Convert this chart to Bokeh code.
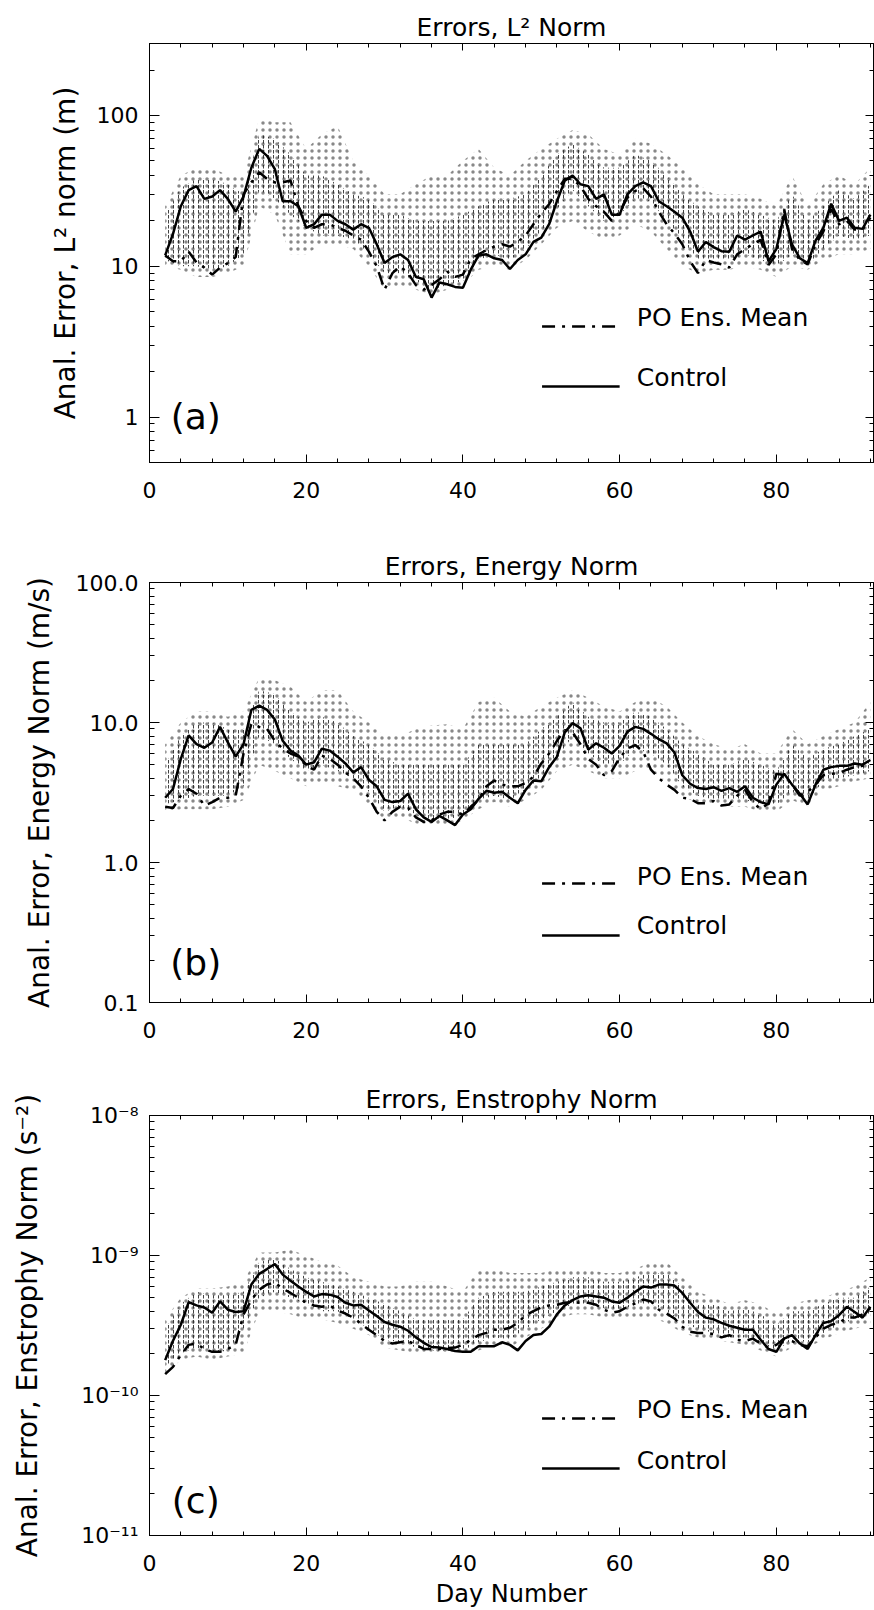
import math
from bokeh.plotting import figure
from bokeh.models import (Range1d, LogAxis, LinearAxis, SingleIntervalTicker, LogTicker,
                          CustomJSTickFormatter, Label, Title)
from bokeh.layouts import column
from bokeh.embed import file_html
from bokeh.resources import INLINE

FONT = "DejaVu Sans"

# ---------------- data ----------------
DAYS = list(range(2, 93))          # daily values, day 2 .. 92
BAND_DAYS = list(range(2, 93, 2))  # ensemble spread, every 2 days

# (a) L2 norm (m)
L2_CONTROL = [11.8, 16.4, 25, 32, 34, 28, 29, 32, 28, 23,
              29, 45, 60, 54, 44, 27, 27, 25, 18, 19,
              22, 22, 20, 19, 17.5, 19, 18, 14, 10.5, 11.5,
              12, 11, 8.5, 8.2, 6.2, 7.8, 7.6, 7.3, 7.2, 9.5,
              11.8, 12, 11.3, 11, 9.6, 11, 12, 14.5, 15.5, 19,
              27, 37, 40, 35, 34, 28, 30, 22, 22, 30,
              34, 36, 34, 27, 25, 23, 21, 17, 12.5, 14.5,
              13.4, 12.6, 12.5, 16, 15, 16, 17, 10.8, 13, 22,
              14, 11.3, 10.5, 14.8, 18, 26, 20, 21, 18, 17.7, 22]
L2_MEAN = [11.8, 10.8, 10.8, 12.5, 10.6, 9.8, 8.8, 9.8, 10.5, 11.5,
           30, 36, 42, 38, 36, 36, 37, 25, 20, 18,
           19, 19, 18, 17.2, 16, 15, 12.5, 10, 7, 9,
           10, 9, 7.5, 7, 7.5, 8.2, 9.2, 8.5, 8.8, 11.2,
           12, 12.8, 13.5, 14, 13.5, 14.5, 16, 19, 22.5, 25.8,
           31.6, 38, 38, 34, 28, 25, 23, 20, 23, 28.6,
           31.6, 33, 29, 23, 19, 16.5, 14, 10.8, 9, 11,
           10.6, 10.3, 9.8, 12, 13, 14, 15, 10.2, 12, 24,
           13, 11, 10.3, 14, 17, 24, 19, 20, 17.5, 17.5, 21]
L2_ENS_OUTER_HI = [25, 40, 45, 45, 40, 40, 95, 90, 90, 60, 75, 85, 50, 40, 30, 30, 35, 40, 40, 50, 60, 45, 40,
                   50, 60, 70, 80, 75, 60, 55, 70, 65, 55, 45, 35, 30, 30, 30, 28, 25, 40, 25, 35, 40, 35, 45]
L2_ENS_CORE_HI = [22, 33, 38, 38, 35, 30, 75, 70, 55, 40, 40, 35, 30, 28, 22, 22, 20, 20, 20, 22, 25, 28, 28,
                  30, 40, 55, 65, 55, 45, 45, 55, 50, 40, 30, 25, 22, 22, 24, 22, 20, 30, 20, 25, 32, 28, 35]
L2_ENS_CORE_LO = [11, 10, 10, 9.5, 10, 12, 32, 28, 22, 18, 16, 16, 15, 12, 9, 9, 8, 7, 7.5, 8, 11, 12, 11,
                  13, 17, 24, 32, 25, 20, 22, 28, 27, 20, 15, 11, 11, 11, 12, 11, 10, 12, 10, 13, 16, 15, 16]
L2_ENS_OUTER_LO = [10, 9.5, 8.5, 8.5, 9, 10, 25, 22, 12, 12, 14, 14, 13, 10, 7, 7.5, 7, 6.5, 7, 7.5, 9.5, 10,
                   9.5, 11, 14, 18, 20, 17, 15, 16, 19, 17, 13, 10, 9, 9.5, 9.5, 10, 9.5, 8.5, 10, 9.5, 11,
                   12, 12, 13]

# (b) energy norm (m/s)
EN_CONTROL = [2.9, 3.35, 5.5, 8.1, 7.0, 6.6, 7.2, 9.3, 7.2, 5.7,
              7, 12.3, 13.2, 12.3, 10.5, 7.4, 6.3, 5.8, 5.0, 5.2,
              6.5, 6.3, 5.7, 5.1, 4.4, 4.8, 3.9, 3.5, 2.8, 2.7,
              2.75, 3.1, 2.4, 2.1, 1.95, 2.15, 2.0, 1.85, 2.2, 2.4,
              2.85, 3.25, 3.15, 3.2, 2.9, 2.65, 3.3, 3.85, 3.8, 4.8,
              5.7, 8.5, 9.9, 9.1, 6.4, 7.1, 6.6, 6.0, 6.8, 8.6,
              9.3, 9.0, 8.3, 7.6, 7.1, 6.1, 4.2, 3.65, 3.4, 3.35,
              3.45, 3.25, 3.4, 3.2, 3.5, 2.9, 2.7, 2.6, 3.6, 4.3,
              3.6, 3.1, 2.6, 3.6, 4.6, 4.8, 4.9, 4.9, 5.1, 5.0, 5.4]
EN_MEAN = [2.5, 2.45, 3.0, 3.35, 3.1, 2.55, 2.7, 2.9, 2.9, 3.0,
           6.0, 9.8, 9.3, 9.0, 7.4, 6.5, 6.0, 5.7, 4.9, 4.6,
           5.8, 5.5, 5.0, 4.4, 4.0, 3.5, 2.9, 2.3, 2.0, 2.3,
           2.5, 2.45, 2.1, 1.95, 2.0, 2.2, 2.3, 2.3, 2.2, 2.5,
           2.8, 3.5, 3.85, 3.6, 3.5, 3.5, 3.7, 4.1, 5.1, 6.0,
           7.4, 8.8, 8.5, 7.0, 5.5, 5.0, 4.2, 4.5, 5.6, 6.5,
           6.9, 6.2, 4.6, 4.0, 3.6, 3.3, 2.9, 2.85, 2.65, 2.65,
           2.75, 2.55, 2.6, 3.0, 3.3, 2.7, 2.4, 2.65, 4.3, 4.2,
           3.6, 3.0, 3.2, 3.6, 4.2, 4.3, 4.35, 4.6, 4.8, 4.9, 5.0]
EN_ENS_OUTER_HI = [7, 10, 12, 12, 11, 12, 21, 20, 18, 14, 17, 17, 12, 10, 8, 8, 9, 9.5, 9.7, 9, 14, 15, 12,
                   11, 13, 15, 17, 15, 13, 12, 14, 15, 13, 10, 8, 7, 6.5, 7, 6, 6, 9, 7, 8, 9, 10, 14]
EN_ENS_CORE_HI = [5, 8, 10, 10, 9, 9, 17, 16, 12, 10, 11, 10, 8, 7, 5.5, 5, 5, 5, 5, 5, 7, 7, 7,
                  7, 9, 11, 14, 11, 10, 10, 12, 11, 9, 7, 6, 5, 5, 5.5, 5, 4.5, 7, 5.5, 6.5, 7, 8, 9]
EN_ENS_CORE_LO = [2.6, 2.8, 3, 3, 3, 3.5, 8, 7, 5.5, 4.5, 5, 4.5, 4, 3.2, 2.3, 2.5, 2.2, 2, 2, 2.2, 2.8, 3,
                  2.8, 3.3, 4, 5.5, 8, 6, 5, 5, 6.5, 6, 5, 3.5, 3, 2.8, 2.8, 2.8, 2.6, 2.6, 3.2, 2.8, 3.8,
                  4, 4.2, 4.5]
EN_ENS_OUTER_LO = [2.3, 2.4, 2.4, 2.4, 2.5, 2.8, 5, 4.5, 4, 3.5, 3.8, 3.5, 3.3, 2.6, 2, 2.1, 1.9, 1.8, 1.8, 2,
                   2.4, 2.7, 2.5, 2.8, 3.3, 4.5, 5, 4.5, 4, 4, 4.5, 4.5, 3.8, 2.9, 2.7, 2.6, 2.5, 2.5, 2.3,
                   2.3, 2.8, 2.5, 3.3, 3.5, 3.8, 4]

# (c) enstrophy norm, in units of 1e-10 s^-2
ENS_CONTROL_E10 = [1.79, 2.46, 3.2, 4.65, 4.4, 4.25, 3.9, 4.7, 4.1, 3.95,
                   4.0, 6.2, 7.4, 8.0, 8.7, 7.3, 6.6, 6.0, 5.5, 5.1,
                   5.3, 5.25, 5.05, 4.6, 4.4, 4.45, 4.05, 3.7, 3.35, 3.2,
                   3.1, 2.9, 2.6, 2.38, 2.22, 2.2, 2.15, 2.08, 2.05, 2.05,
                   2.25, 2.25, 2.25, 2.4, 2.3, 2.1, 2.45, 2.7, 2.75, 3.1,
                   3.8, 4.4, 4.8, 5.1, 5.2, 5.1, 5.0, 4.7, 4.6, 5.0,
                   5.5, 6.0, 5.9, 6.2, 6.2, 6.1, 5.4, 4.6, 3.95, 3.6,
                   3.5, 3.3, 3.15, 3.05, 2.95, 2.95, 2.5, 2.15, 2.05, 2.55,
                   2.7, 2.35, 2.15, 2.7, 3.3, 3.4, 3.75, 4.3, 3.95, 3.6, 4.3]
ENS_MEAN_E10 = [1.42, 1.6, 1.95, 2.3, 2.35, 2.15, 2.05, 2.05, 2.15, 2.3,
                3.8, 4.8, 5.7, 6.2, 6.4, 5.8, 5.4, 5.0, 4.6, 4.4,
                4.3, 4.4, 4.05, 3.85, 3.6, 3.25, 2.95, 2.7, 2.45, 2.35,
                2.4, 2.45, 2.3, 2.15, 2.15, 2.15, 2.18, 2.2, 2.3, 2.5,
                2.7, 2.8, 2.95, 2.95, 3.05, 3.3, 3.75, 4.0, 4.25, 4.4,
                4.45, 4.6, 4.65, 4.6, 4.6, 4.45, 4.1, 3.9, 4.0, 4.3,
                4.55, 4.85, 4.7, 4.1, 3.85, 3.55, 3.1, 2.85, 2.8, 2.8,
                2.75, 2.6, 2.7, 2.5, 2.45, 2.55, 2.35, 2.2, 2.3, 2.55,
                2.45, 2.3, 2.25, 2.6, 3.0, 3.2, 3.3, 3.6, 3.6, 3.8, 4.2]
ENS_OUTER_HI_E10 = [3.5, 5, 5.8, 5.8, 6, 6.5, 10.5, 10.5, 11, 10, 9, 8.5, 7, 6.5, 6, 6, 6.5, 6.5, 6, 5.5, 8,
                    8, 7.5, 7.5, 7.5, 8, 8, 8, 7.5, 7.5, 8, 9, 9, 7, 5.5, 5, 4.5, 4.8, 4.5, 3.8, 4.5, 4.8,
                    5, 5.5, 6, 7]
ENS_CORE_HI_E10 = [3, 4.5, 5.5, 5.2, 5.2, 5.5, 9, 9.5, 8, 7, 6.5, 6, 5.5, 5, 4.5, 4, 3.5, 3.5, 3.5, 3.5, 5,
                   5.5, 5.5, 5.5, 6, 6.5, 7, 7, 6.5, 6.5, 7, 7.5, 7.5, 6, 4.5, 4.5, 4, 4.2, 3.8, 3.2, 4, 4,
                   4.5, 5, 5, 6]
ENS_CORE_LO_E10 = [1.6, 2, 2.2, 2, 2.1, 3, 5, 5.5, 5, 4.5, 4, 4, 3.5, 3, 2.5, 2.4, 2.2, 2.1, 2.1, 2.1, 2.4,
                   2.6, 2.5, 3, 3.5, 4, 4.5, 4.5, 4.2, 4, 4.5, 4.5, 4, 3.3, 3, 2.8, 2.6, 2.6, 2.4, 2.1, 2.5,
                   2.4, 2.8, 3.2, 3.5, 3.8]
ENS_OUTER_LO_E10 = [1.4, 1.8, 1.9, 1.8, 1.9, 2, 4, 4, 3.8, 3.5, 3.5, 3.3, 3, 2.7, 2.2, 2.1, 2, 2, 2, 2, 2.1,
                    2.3, 2.2, 2.6, 3, 3.5, 3.8, 3.8, 3.6, 3.5, 3.6, 3.6, 3.3, 2.8, 2.6, 2.5, 2.4, 2.3, 2.1,
                    1.9, 2.2, 2.2, 2.5, 2.8, 3, 3.2]


def e10(vals):
    return [v * 1e-10 for v in vals]


TITLES = ["Errors, L\u00b2 Norm", "Errors, Energy Norm", "Errors, Enstrophy Norm"]
YLABELS = ["Anal. Error, L\u00b2 norm (m)", "Anal. Error, Energy Norm (m/s)",
           "Anal. Error, Enstrophy Norm (s\u207b\u00b2)"]
PANEL_TAGS = ["(a)", "(b)", "(c)"]
LEGEND_TEXT = ["PO Ens. Mean", "Control"]
XLABEL = "Day Number"
X_MAX = 92.4

SUP_JS = r"""
const sup = {"-": "\u207B", "0": "\u2070", "1": "\u00B9", "2": "\u00B2", "3": "\u00B3",
             "4": "\u2074", "5": "\u2075", "6": "\u2076", "7": "\u2077", "8": "\u2078", "9": "\u2079"};
const e = Math.round(Math.log10(tick));
return "10" + String(e).split("").map(c => sup[c]).join("");
"""

PANELS = [
    dict(ylo=0.5, yhi=300, fig_h=545, btop=43, bbot=83, fmt="return tick.toFixed(0);",
         ctrl=L2_CONTROL, mean=L2_MEAN,
         ohi=L2_ENS_OUTER_HI, chi=L2_ENS_CORE_HI, clo=L2_ENS_CORE_LO, olo=L2_ENS_OUTER_LO,
         leg=(274, 283, 334, 343), tag=373, ylab_standoff=12),
    dict(ylo=0.1, yhi=100, fig_h=535, btop=37, bbot=78, fmt="return tick.toFixed(1);",
         ctrl=EN_CONTROL, mean=EN_MEAN,
         ohi=EN_ENS_OUTER_HI, chi=EN_ENS_CORE_HI, clo=EN_ENS_CORE_LO, olo=EN_ENS_OUTER_LO,
         leg=(294, 301, 343, 353), tag=380, ylab_standoff=17),
    dict(ylo=1e-11, yhi=1e-8, fig_h=530, btop=35, bbot=75, fmt=SUP_JS,
         ctrl=e10(ENS_CONTROL_E10), mean=e10(ENS_MEAN_E10),
         ohi=e10(ENS_OUTER_HI_E10), chi=e10(ENS_CORE_HI_E10), clo=e10(ENS_CORE_LO_E10),
         olo=e10(ENS_OUTER_LO_E10),
         leg=(294, 303, 345, 353), tag=385, ylab_standoff=34),
]


def y_at(cfg, px_from_top):
    fh = cfg["fig_h"] - cfg["btop"] - cfg["bbot"]
    lt, lb = math.log10(cfg["yhi"]), math.log10(cfg["ylo"])
    return 10 ** (lt - px_from_top * (lt - lb) / fh)


def style_axis(ax, maj, mnr):
    ax.major_tick_in = maj
    ax.major_tick_out = 0
    ax.minor_tick_in = mnr
    ax.minor_tick_out = 0
    ax.axis_line_color = "black"
    ax.major_tick_line_color = "black"
    ax.minor_tick_line_color = "black"
    ax.major_label_text_font = FONT
    ax.major_label_text_font_size = "22px"
    ax.major_label_text_color = "black"


figs = []
for i, cfg in enumerate(PANELS):
    p = figure(width=874, height=cfg["fig_h"], x_range=Range1d(0, X_MAX),
               y_range=Range1d(cfg["ylo"], cfg["yhi"]), y_axis_type="log",
               output_backend="svg", toolbar_location=None, title=None,
               min_border_left=149, min_border_right=1,
               min_border_top=cfg["btop"], min_border_bottom=cfg["bbot"])
    p.background_fill_color = "white"
    p.border_fill_color = "white"
    p.outline_line_color = "black"
    p.outline_line_width = 1
    p.xgrid.visible = False
    p.ygrid.visible = False

    # bottom axis
    xa = p.xaxis[0]
    xa.ticker = SingleIntervalTicker(interval=20, num_minor_ticks=5)
    style_axis(xa, 8, 4)
    xa.major_label_standoff = 19
    if i == 2:
        xa.axis_label = XLABEL
        xa.axis_label_text_font = FONT
        xa.axis_label_text_font_size = "24px"
        xa.axis_label_text_font_style = "normal"
        xa.axis_label_text_color = "black"
        xa.axis_label_standoff = 6

    # left axis
    ya = p.yaxis[0]
    ya.ticker = LogTicker(mantissas=[1], num_minor_ticks=10)
    ya.formatter = CustomJSTickFormatter(code=cfg["fmt"])
    style_axis(ya, 10, 5)
    ya.major_label_standoff = 11
    ya.axis_label = YLABELS[i]
    ya.axis_label_text_font = FONT
    ya.axis_label_text_font_size = "28px"
    ya.axis_label_text_font_style = "normal"
    ya.axis_label_text_color = "black"
    ya.axis_label_standoff = cfg["ylab_standoff"]

    # mirrored axes (ticks only)
    ra = LogAxis(ticker=LogTicker(mantissas=[1], num_minor_ticks=10),
                 formatter=CustomJSTickFormatter(code="return '';"))
    style_axis(ra, 8, 4)
    ra.major_label_text_font_size = "0px"
    ra.major_label_standoff = 0
    p.add_layout(ra, "right")
    ta = LinearAxis(ticker=SingleIntervalTicker(interval=20, num_minor_ticks=5),
                    formatter=CustomJSTickFormatter(code="return '';"))
    style_axis(ta, 7, 4)
    ta.major_label_text_font_size = "0px"
    ta.major_label_standoff = 0
    p.add_layout(ta, "above")

    # title (outside the top axis)
    p.add_layout(Title(text=TITLES[i], align="center", text_font=FONT, text_font_size="25px",
                       text_font_style="normal", text_color="black", standoff=3), "above")

    # ensemble spread (stippled)
    p.varea(x=BAND_DAYS, y1=cfg["olo"], y2=cfg["ohi"], fill_alpha=0,
            hatch_pattern="dot", hatch_color="#555555", hatch_scale=7, hatch_weight=1,
            hatch_alpha=0.7)
    p.varea(x=BAND_DAYS, y1=cfg["clo"], y2=cfg["chi"], fill_alpha=0,
            hatch_pattern="vertical_dash", hatch_color="#222222", hatch_scale=5, hatch_weight=1,
            hatch_alpha=0.85)

    # lines
    p.line(DAYS, cfg["mean"], line_color="black", line_width=2.5, line_dash="13 7 3 7")
    p.line(DAYS, cfg["ctrl"], line_color="black", line_width=2.5)

    # legend (manual, like the original)
    t_po, l_po, t_ct, l_ct = cfg["leg"]
    p.line([50.1, 60.0], [y_at(cfg, l_po)] * 2, line_color="black", line_width=2.5,
           line_dash="13 7 3 7")
    p.line([50.1, 60.0], [y_at(cfg, l_ct)] * 2, line_color="black", line_width=2.5)
    p.add_layout(Label(x=62.2, y=y_at(cfg, t_po), text=LEGEND_TEXT[0], text_font=FONT,
                       text_font_size="25px", text_baseline="middle", text_align="left",
                       text_color="black"))
    p.add_layout(Label(x=62.2, y=y_at(cfg, t_ct), text=LEGEND_TEXT[1], text_font=FONT,
                       text_font_size="25px", text_baseline="middle", text_align="left",
                       text_color="black"))

    # panel tag
    p.add_layout(Label(x=5.9, y=y_at(cfg, cfg["tag"]), text=PANEL_TAGS[i], text_font=FONT,
                       text_font_size="36px", text_baseline="middle", text_align="center",
                       text_color="black"))
    figs.append(p)

layout = column(*figs, spacing=0)
with open("out.html", "w", encoding="utf-8") as f:
    f.write(file_html(layout, INLINE))
